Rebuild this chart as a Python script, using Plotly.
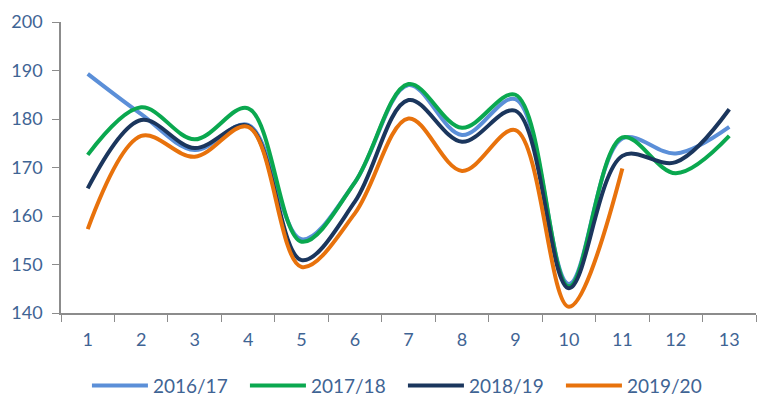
import plotly.graph_objects as go

weeks = [str(i) for i in range(1, 14)]

s_2016_17 = [189.3, 181.0, 173.6, 178.8, 155.2, 167.0, 187.0, 176.7, 184.1, 146.0, 176.0, 172.9, 178.4]
s_2017_18 = [172.6, 182.4, 175.8, 182.2, 154.7, 167.0, 187.2, 178.2, 185.0, 145.5, 176.2, 168.8, 176.5]
s_2018_19 = [165.7, 179.8, 174.0, 178.6, 150.9, 163.0, 183.9, 175.3, 181.7, 145.1, 172.4, 171.1, 182.0]
s_2019_20 = [157.3, 176.5, 172.2, 178.4, 149.5, 160.6, 180.1, 169.3, 177.7, 141.3, 169.8, None, None]

series = [
    ("2016/17", s_2016_17, "#5B8FD8"),
    ("2017/18", s_2017_18, "#0AA84F"),
    ("2018/19", s_2018_19, "#1B365D"),
    ("2019/20", s_2019_20, "#E8720C"),
]

font_color = "#3F6494"
font_family = "Lato, 'Open Sans', sans-serif"

fig = go.Figure()
for name, vals, color in series:
    fig.add_trace(go.Scatter(
        x=weeks, y=vals, name=name, mode="lines",
        line=dict(color=color, width=4, shape="spline", smoothing=1.0),
        connectgaps=False,
    ))

fig.update_layout(
    width=757, height=404,
    margin=dict(l=61, r=1, t=22, b=91, autoexpand=False),
    paper_bgcolor="white", plot_bgcolor="white",
    font=dict(family=font_family, color=font_color, size=18),
    showlegend=True,
    legend=dict(
        orientation="h", x=0.492, xanchor="center", y=-0.25, yanchor="middle",
        font=dict(size=19, color=font_color), itemwidth=56,
        entrywidth=87, entrywidthmode="pixels",
        tracegroupgap=0,
    ),
    xaxis=dict(
        type="category", range=[-0.5, 12.5],
        showline=True, linecolor="#8C8C8C", linewidth=1.5,
        ticks="outside", tickson="boundaries", ticklen=7, tickcolor="#8C8C8C",
        showgrid=False, zeroline=False, ticklabelstandoff=10,
        tickfont=dict(size=18, color=font_color),
    ),
    yaxis=dict(
        range=[140, 200], dtick=10,
        showline=True, linecolor="#8C8C8C", linewidth=1.5,
        ticks="outside", ticklen=7, tickcolor="#8C8C8C",
        showgrid=False, zeroline=False, ticklabelstandoff=6,
        tickfont=dict(size=18, color=font_color),
    ),
)

fig.write_html("out.html")
